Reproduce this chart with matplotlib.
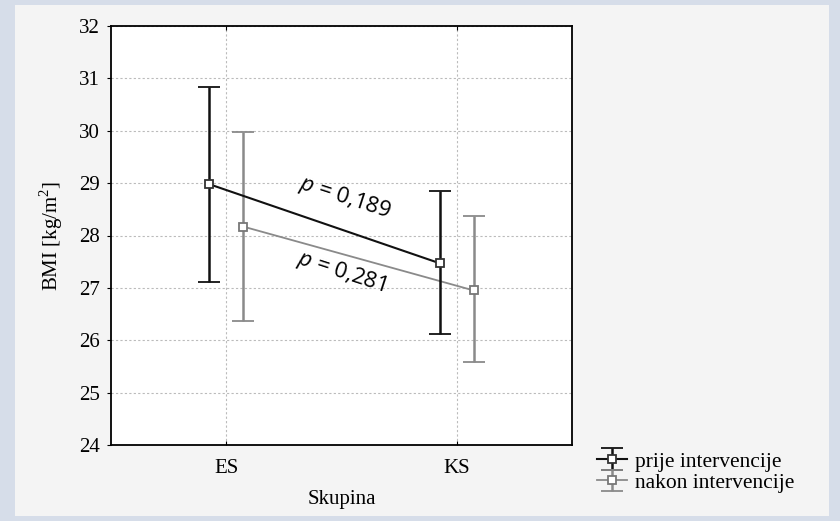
import matplotlib.pyplot as plt
from matplotlib.patches import Rectangle

# Podaci očitani sa slike
skupine = ["ES", "KS"]
prije_mean = [28.98, 27.47]
prije_gore = [30.83, 28.85]
prije_dolje = [27.11, 26.11]
nakon_mean = [28.17, 26.95]
nakon_gore = [29.98, 28.37]
nakon_dolje = [26.36, 25.59]
p_vrijednosti = ["$\\it{p}$ = 0,189", "$\\it{p}$ = 0,281"]

serif = "Liberation Serif"
plt.rcParams["mathtext.fontset"] = "custom"
plt.rcParams["mathtext.rm"] = serif
plt.rcParams["mathtext.it"] = "Open Sans:italic"

fig = plt.figure(figsize=(8.4, 5.21), dpi=100, facecolor="#d6dde9")
fig.patches.append(Rectangle((15 / 840, 5 / 521), 814 / 840, 511 / 521,
                             transform=fig.transFigure, facecolor="#f4f4f4",
                             edgecolor="none", zorder=-10))

ax = fig.add_axes([111 / 840, 1 - 445 / 521, 461 / 840, 419 / 521])
ax.set_facecolor("white")

x = list(range(len(skupine)))
pomak = 0.074
x_prije = [v - pomak for v in x]
x_nakon = [v + pomak for v in x]

err_prije = [[m - d for m, d in zip(prije_mean, prije_dolje)],
             [g - m for m, g in zip(prije_mean, prije_gore)]]
err_nakon = [[m - d for m, d in zip(nakon_mean, nakon_dolje)],
             [g - m for m, g in zip(nakon_mean, nakon_gore)]]

crna = "#111111"
siva = "#8a8a8a"
ax.errorbar(x_prije, prije_mean, yerr=err_prije, color=crna, lw=1.5,
            elinewidth=1.8, capsize=8, capthick=1.8, marker="s", ms=6,
            mfc="white", mec="#333333", mew=1.3, label="prije intervencije", zorder=4)
ax.errorbar(x_nakon, nakon_mean, yerr=err_nakon, color=siva, lw=1.3,
            elinewidth=1.8, capsize=8, capthick=1.8, marker="s", ms=6,
            mfc="white", mec="#777777", mew=1.3, label="nakon intervencije", zorder=3)

ax.set_xlim(-0.5, 1.5)
ax.set_ylim(24, 32)
ax.set_xticks(x)
ax.set_xticklabels(skupine)
ax.set_yticks(range(24, 33))
ax.grid(True, color="#bbbbbb", ls=(0, (2, 2)), lw=0.8)
ax.set_axisbelow(True)
for s in ax.spines.values():
    s.set_linewidth(1.3)
    s.set_color("black")
ax.tick_params(axis="y", direction="out", length=3, labelsize=15, pad=5)
ax.tick_params(axis="x", direction="in", length=3, labelsize=15, pad=10,
               top=True)
for lbl in ax.get_xticklabels() + ax.get_yticklabels():
    lbl.set_fontfamily(serif)

ax.set_xlabel("Skupina", fontsize=15, family=serif, labelpad=9)
ax.set_ylabel("BMI [kg/m$^\\mathrm{2}$]", fontsize=15, family=serif, labelpad=10)

ax.text(0.515, 28.72, p_vrijednosti[0], fontsize=16, family="Open Sans",
        rotation=-18, ha="center", va="center")
ax.text(0.498, 27.30, p_vrijednosti[1], fontsize=16, family="Open Sans",
        rotation=-18, ha="center", va="center")

fig.legend(loc="upper left", bbox_to_anchor=(588 / 840, 1 - 443 / 521),
           frameon=False, prop={"family": serif, "size": 15.5},
           handlelength=1.4, handletextpad=0.4, labelspacing=0.05,
           borderaxespad=0)

fig.savefig("out.png", dpi=100, facecolor=fig.get_facecolor())
